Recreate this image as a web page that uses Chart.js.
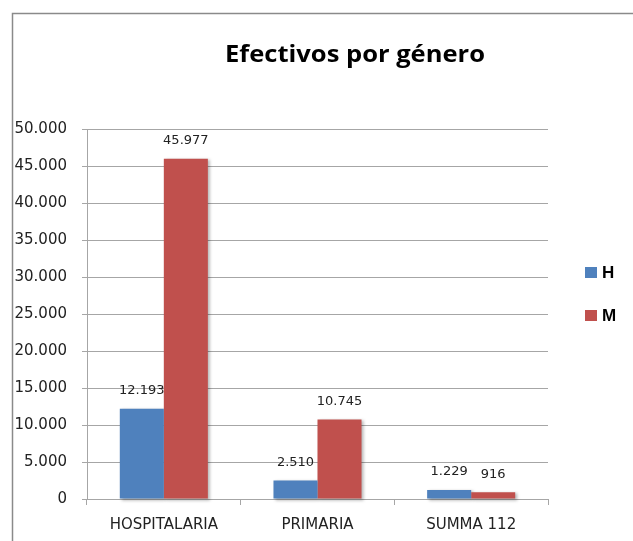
<!DOCTYPE html>
<html>
<head>
<meta charset="utf-8">
<title>Efectivos por género</title>
<script src="https://cdn.jsdelivr.net/npm/chart.js@4.4.1/dist/chart.umd.min.js"></script>
<style>
  html, body { margin: 0; padding: 0; background: #fff; }
  #wrap { width: 633px; height: 541px; position: relative; }
</style>
</head>
<body>
<div id="wrap"><canvas id="generoChart" width="633" height="541"></canvas></div>
<script>
    // efectivos por ámbito y género
    var categorias = ['HOSPITALARIA', 'PRIMARIA', 'SUMMA 112'];
    var hombres = [12193, 2510, 1229];
    var mujeres = [45977, 10745, 916];
    var series = ['H', 'M'];
    var colores = ['#4F81BD', '#C0504D'];
    var titulo = 'Efectivos por género';

    var txtColor = '#222222';
    var gridColor = '#a6a6a6';

    function miles(v) {
        return String(v).replace(/\B(?=(\d{3})+(?!\d))/g, '.');
    }

    // marco exterior y título
    var marco = {
        id: 'marco',
        beforeDraw: function (chart) {
            var ctx = chart.ctx;
            ctx.save();
            ctx.strokeStyle = '#8a8a8a';
            ctx.lineWidth = 1.5;
            ctx.beginPath();
            ctx.moveTo(12.5, chart.height + 5);
            ctx.lineTo(12.5, 13.5);
            ctx.lineTo(chart.width + 5, 13.5);
            ctx.stroke();

            // título algo ensanchado
            ctx.translate(355, 62);
            ctx.scale(1.11, 1);
            ctx.font = 'bold 23px "Open Sans"';
            ctx.fillStyle = '#000';
            ctx.textAlign = 'center';
            ctx.textBaseline = 'alphabetic';
            ctx.fillText(titulo, 0, 0);
            ctx.restore();
        }
    };

    // sombra suave detrás de cada barra
    var sombra = {
        id: 'sombra',
        beforeDatasetsDraw: function (chart) {
            var ctx = chart.ctx;
            ctx.save();
            ctx.fillStyle = 'rgba(0,0,0,0.28)';
            ctx.filter = 'blur(1.5px)';
            chart.data.datasets.forEach(function (ds, i) {
                chart.getDatasetMeta(i).data.forEach(function (bar) {
                    var w = bar.width;
                    ctx.fillRect(bar.x - w / 2 + 2, bar.y + 1, w, bar.base - bar.y + 1);
                });
            });
            ctx.restore();
        }
    };

    // valores encima de las barras
    var etiquetas = {
        id: 'etiquetas',
        afterDatasetsDraw: function (chart) {
            var ctx = chart.ctx;
            ctx.save();
            ctx.font = '13px "DejaVu Sans"';
            ctx.fillStyle = txtColor;
            ctx.textAlign = 'center';
            ctx.textBaseline = 'middle';
            chart.data.datasets.forEach(function (ds, i) {
                chart.getDatasetMeta(i).data.forEach(function (bar, j) {
                    ctx.fillText(miles(ds.data[j]), bar.x, bar.y - 18);
                });
            });
            ctx.restore();
        }
    };

    // leyenda a la derecha
    var leyenda = {
        id: 'leyenda',
        afterDraw: function (chart) {
            var ctx = chart.ctx;
            ctx.save();
            ctx.font = 'bold 17px "Liberation Sans"';
            ctx.textBaseline = 'middle';
            chart.data.datasets.forEach(function (ds, i) {
                var y = 272 + i * 43;
                ctx.fillStyle = ds.backgroundColor;
                ctx.fillRect(585, y - 5, 12, 11);
                ctx.fillStyle = '#000';
                ctx.fillText(ds.label, 602, y + 1);
            });
            ctx.restore();
        }
    };

    var ctx = document.getElementById('generoChart');
    var chart = new Chart(ctx, {
        type: 'bar',
        data: {
            labels: categorias,
            datasets: [{
                label: series[0],
                data: hombres,
                backgroundColor: colores[0],
                borderWidth: 0
            }, {
                label: series[1],
                data: mujeres,
                backgroundColor: colores[1],
                borderWidth: 0
            }]
        },
        options: {
            responsive: false,
            animation: false,
            events: [],
            layout: {
                padding: { left: 0, right: 85, top: 129, bottom: 0 }
            },
            datasets: {
                bar: { categoryPercentage: 0.573, barPercentage: 1 }
            },
            plugins: {
                legend: { display: false },
                tooltip: { enabled: false },
                title: { display: false }
            },
            scales: {
                x: {
                    grid: {
                        offset: true,
                        drawOnChartArea: false,
                        drawTicks: true,
                        tickLength: 6,
                        color: gridColor
                    },
                    border: { color: gridColor },
                    ticks: {
                        color: txtColor,
                        font: { family: '"DejaVu Sans"', size: 15 },
                        padding: 11,
                        maxRotation: 0
                    },
                    afterFit: function (scale) { scale.height = 42; }
                },
                y: {
                    min: 0,
                    max: 50000,
                    ticks: {
                        stepSize: 5000,
                        color: txtColor,
                        font: { family: '"DejaVu Sans"', size: 15 },
                        padding: 15,
                        callback: function (v) { return miles(v); }
                    },
                    grid: {
                        color: gridColor,
                        tickLength: 5
                    },
                    border: { color: gridColor },
                    afterFit: function (scale) { scale.width = 87; }
                }
            }
        },
        plugins: [marco, sombra, etiquetas, leyenda]
    });
</script>
</body>
</html>
